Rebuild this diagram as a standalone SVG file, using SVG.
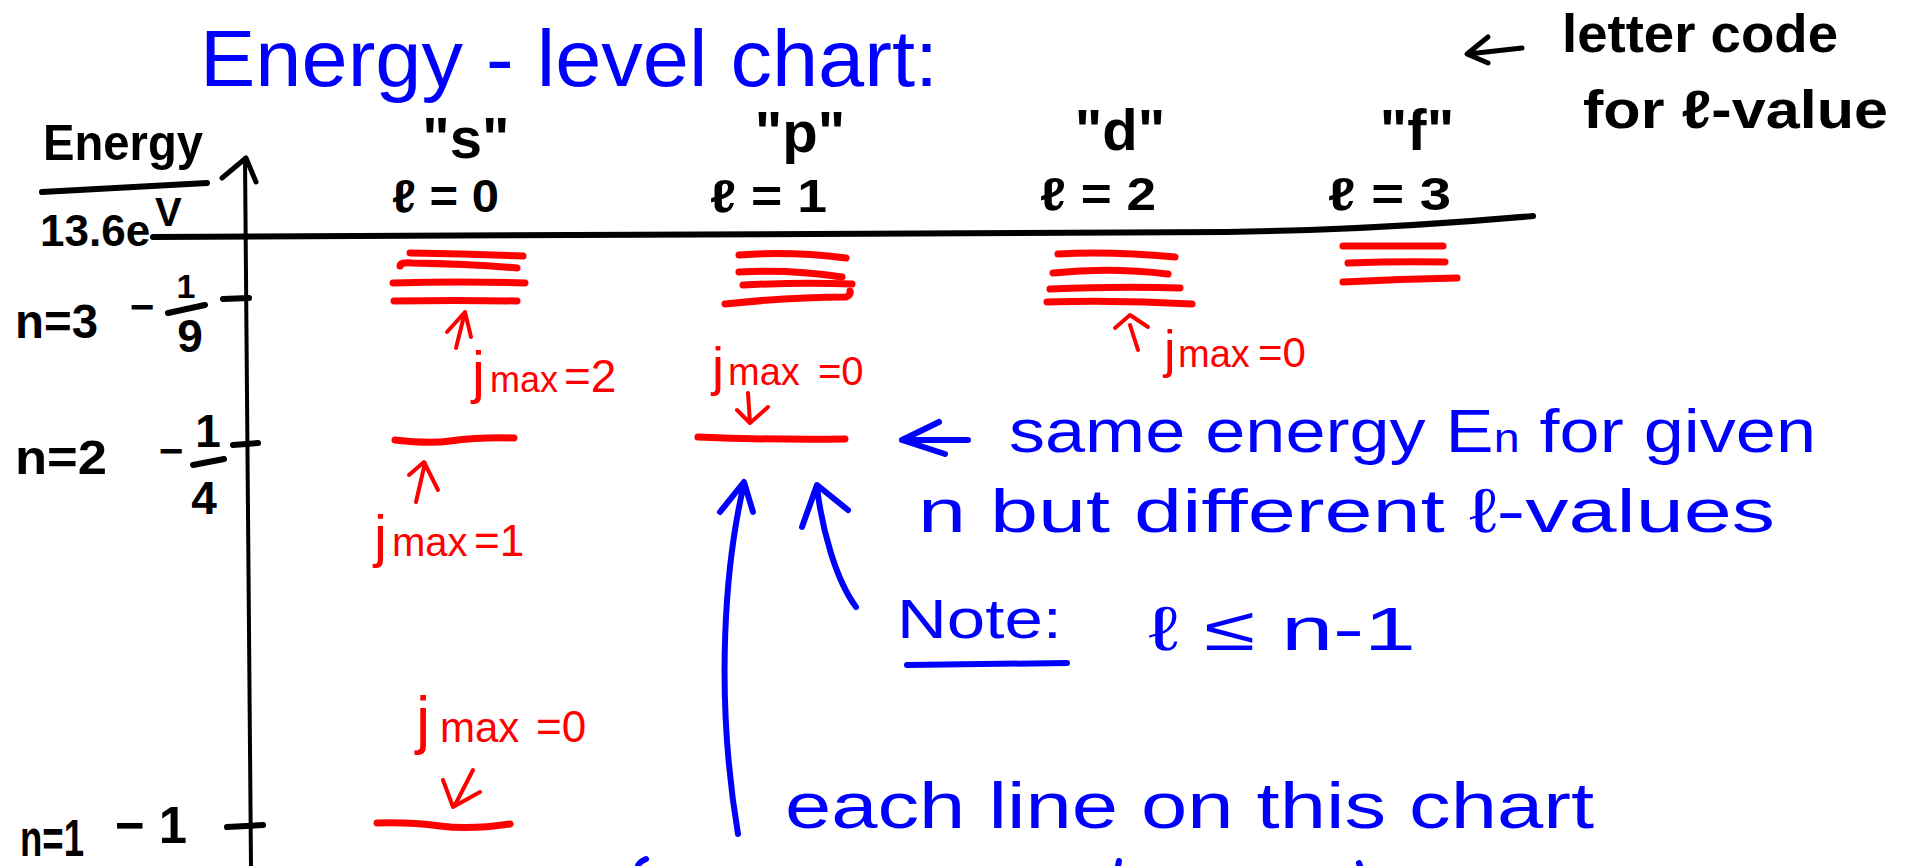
<svg xmlns="http://www.w3.org/2000/svg" width="1923" height="866" viewBox="0 0 1923 866">
<style>
.k{fill:#000;font-family:"Liberation Sans",Arial,sans-serif;font-weight:bold}
.b{fill:#0000ff;font-family:"Liberation Sans",Arial,sans-serif}
.r{fill:#ff0000;font-family:"Liberation Sans",Arial,sans-serif}
.ks{fill:none;stroke:#000;stroke-linecap:round;stroke-linejoin:round}
.bs{fill:none;stroke:#0000ff;stroke-width:6;stroke-linecap:round;stroke-linejoin:round}
.rs{fill:none;stroke:#ff0000;stroke-width:7;stroke-linecap:round;stroke-linejoin:round}
.ra{fill:none;stroke:#ff0000;stroke-width:4;stroke-linecap:round;stroke-linejoin:round}
</style>
<rect width="1923" height="866" fill="#fff"/>

<g id="title">
<text class="b" x="200" y="86" font-size="80" textLength="738" lengthAdjust="spacingAndGlyphs">Energy - level chart:</text>
</g>

<g id="letter-code-note">
<path class="ks" stroke-width="5" d="M1522,48 L1468,54 M1488,37 L1467,54 L1488,63"/>
<text class="k" x="1562" y="52" font-size="54" textLength="276" lengthAdjust="spacingAndGlyphs">letter code</text>
<text class="k" x="1583" y="128" font-size="54" textLength="305" lengthAdjust="spacingAndGlyphs">for ℓ-value</text>
</g>

<g id="axes">
<path class="ks" stroke-width="6" d="M153,237 L1226,232 L1309,230 Q1420,226 1533,216"/>
<path class="ks" stroke-width="4" d="M245,158 L251,866"/>
<path class="ks" stroke-width="5" d="M222,178 L246,158 L256,182"/>
<text class="k" x="43" y="160" font-size="50" textLength="160" lengthAdjust="spacingAndGlyphs">Energy</text>
<path class="ks" stroke-width="6" d="M42,192 L207,183"/>
<text class="k" x="40" y="246" font-size="44">13.6e<tspan x="155" y="226" font-size="40">V</tspan></text>
</g>

<g id="headers">
<text class="k" x="466" y="158" font-size="58" text-anchor="middle">"s"</text>
<text class="k" x="800" y="152" font-size="58" text-anchor="middle">"p"</text>
<text class="k" x="1120" y="150" font-size="58" text-anchor="middle">"d"</text>
<text class="k" x="1417" y="150" font-size="58" text-anchor="middle">"f"</text>
<text class="k" x="392" y="212" font-size="46" textLength="107" lengthAdjust="spacingAndGlyphs">ℓ = 0</text>
<text class="k" x="710" y="212" font-size="46" textLength="117" lengthAdjust="spacingAndGlyphs">ℓ = 1</text>
<text class="k" x="1040" y="210" font-size="46" textLength="116" lengthAdjust="spacingAndGlyphs">ℓ = 2</text>
<text class="k" x="1328" y="210" font-size="46" textLength="123" lengthAdjust="spacingAndGlyphs">ℓ = 3</text>
</g>

<g id="n3">
<text class="k" x="15" y="338" font-size="48" textLength="83" lengthAdjust="spacingAndGlyphs">n=3</text>
<text class="k" x="142" y="321" font-size="42" text-anchor="middle">−</text>
<text class="k" x="186" y="298" font-size="34" text-anchor="middle">1</text>
<path class="ks" stroke-width="6" d="M168,313 L205,305"/>
<text class="k" x="190" y="352" font-size="46" text-anchor="middle">9</text>
<path class="ks" stroke-width="6" d="M223,299 L249,298"/>
</g>

<g id="n2">
<text class="k" x="15" y="474" font-size="48" textLength="92" lengthAdjust="spacingAndGlyphs">n=2</text>
<text class="k" x="171" y="465" font-size="42" text-anchor="middle">−</text>
<text class="k" x="208" y="447" font-size="46" text-anchor="middle">1</text>
<path class="ks" stroke-width="6" d="M193,465 L224,459"/>
<text class="k" x="204" y="514" font-size="46" text-anchor="middle">4</text>
<path class="ks" stroke-width="6" d="M233,445 L258,443"/>
</g>

<g id="n1">
<text class="k" x="20" y="856" font-size="52" textLength="64" lengthAdjust="spacingAndGlyphs">n=1</text>
<text class="k" x="115" y="843" font-size="52" textLength="72" lengthAdjust="spacingAndGlyphs">− 1</text>
<path class="ks" stroke-width="6" d="M227,827 L263,825"/>
</g>

<g id="levels">
<path class="rs" d="M410,253 Q470,254 523,256"/>
<path class="rs" d="M400,266 Q400,262 412,263 Q470,264 517,268"/>
<path class="rs" d="M393,283 Q460,281 525,283"/>
<path class="rs" d="M394,301 Q455,300 517,301"/>
<path class="rs" d="M739,255 Q790,251 846,258"/>
<path class="rs" d="M739,272 Q790,269 842,277"/>
<path class="rs" d="M743,285 Q800,282 852,284"/>
<path class="rs" d="M725,304 Q790,297 846,297 Q851,295 850,291"/>
<path class="rs" d="M1058,254 Q1110,251 1175,257"/>
<path class="rs" d="M1053,273 Q1110,267 1168,274"/>
<path class="rs" d="M1050,289 Q1120,286 1180,288"/>
<path class="rs" d="M1047,302 Q1120,300 1192,304"/>
<path class="rs" d="M1343,246 L1443,246"/>
<path class="rs" d="M1348,263 Q1400,261 1445,262"/>
<path class="rs" d="M1343,282 Q1400,279 1457,278"/>
<path class="rs" d="M395,440 Q430,444 450,441 Q480,437 514,438"/>
<path class="rs" d="M698,437 Q770,440 845,439"/>
<path class="rs" stroke-width="8" d="M377,823 Q410,822 440,826 Q470,830 510,824"/>
</g>

<g id="jmax-annotations">
<path class="ra" d="M456,348 L465,312 M447,332 L465,312 L471,337"/>
<text class="r" x="472" y="392"><tspan font-size="58">j</tspan><tspan x="490" font-size="36">max</tspan><tspan x="564" font-size="46">=2</tspan></text>
<text class="r" x="712" y="385"><tspan font-size="54">j</tspan><tspan x="728" font-size="38">max</tspan><tspan x="818" font-size="40">=0</tspan></text>
<path class="ra" d="M748,393 L750,423 M737,410 L750,423 L768,407"/>
<path class="ra" d="M1138,350 L1130,325 M1115,328 L1130,315 L1148,327"/>
<text class="r" x="1164" y="367"><tspan font-size="52">j</tspan><tspan x="1178" font-size="38">max</tspan><tspan x="1258" font-size="42">=0</tspan></text>
<path class="ra" d="M416,502 L425,463 M409,475 L424,462 L438,490"/>
<text class="r" x="374" y="556"><tspan font-size="58">j</tspan><tspan x="392" font-size="40">max</tspan><tspan x="474" font-size="44">=1</tspan></text>
<text class="r" x="416" y="742"><tspan font-size="64">j</tspan><tspan x="440" font-size="42">max</tspan><tspan x="536" font-size="44">=0</tspan></text>
<path class="ra" d="M473,770 L455,805 M443,780 L453,807 L480,792"/>
</g>

<g id="blue-notes">
<path class="bs" stroke-width="7" d="M968,440 L902,440 M939,422 L902,440 L945,454"/>
<text class="b" x="1009" y="452" font-size="62" textLength="807" lengthAdjust="spacingAndGlyphs">same energy E<tspan font-size="40">n</tspan> for given</text>
<text class="b" x="918" y="532" font-size="62" textLength="857" lengthAdjust="spacingAndGlyphs">n but different ℓ-values</text>
<text class="b" x="897" y="638" font-size="56" textLength="165" lengthAdjust="spacingAndGlyphs">Note:</text>
<path class="bs" stroke-width="8" d="M907,665 L1067,663"/>
<text class="b" x="1148" y="650" font-size="62" textLength="268" lengthAdjust="spacingAndGlyphs">ℓ ≤ n-1</text>
<path class="bs" d="M744,484 C726,560 714,690 738,834 M720,512 L744,482 L753,512"/>
<path class="bs" d="M817,487 C822,530 836,580 856,607 M802,527 L817,485 L848,510"/>
<text class="b" x="785" y="828" font-size="64" textLength="809" lengthAdjust="spacingAndGlyphs">each line on this chart</text>
<path class="bs" d="M646,859 Q639,862 638,866 M1119,861 L1118,866 M1359,863 L1360,866"/>
</g>
</svg>
